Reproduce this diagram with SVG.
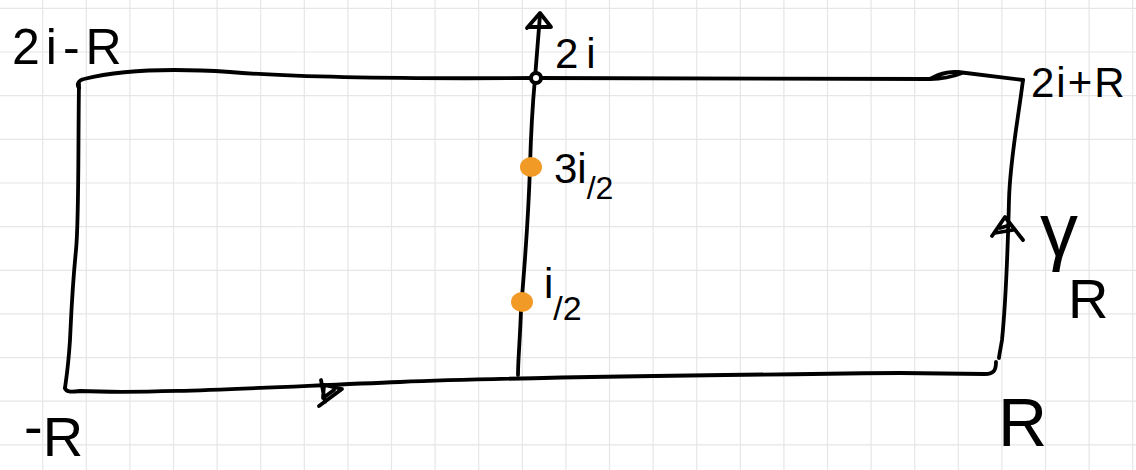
<svg xmlns="http://www.w3.org/2000/svg" width="1136" height="470" viewBox="0 0 1136 470">
<style>
.grid{stroke:#e6e6e6;stroke-width:1.2;fill:none}
.ink{stroke:#000;stroke-width:3.8;fill:none;stroke-linecap:round;stroke-linejoin:round}
.pt{fill:#f29a26}
.lbl{font-family:"Liberation Sans",Arial,sans-serif;fill:#000}
</style>
<rect width="1136" height="470" fill="#fff"/>
<g id="grid">
<path class="grid" d="M42.7,0V470M86.3,0V470M129.9,0V470M173.5,0V470M217.1,0V470M260.7,0V470M304.3,0V470M347.9,0V470M391.5,0V470M435.1,0V470M478.7,0V470M522.3,0V470M565.9,0V470M609.5,0V470M653.1,0V470M696.7,0V470M740.3,0V470M783.9,0V470M827.5,0V470M871.1,0V470M914.7,0V470M958.3,0V470M1001.9,0V470M1045.5,0V470M1089.1,0V470M1132.7,0V470M0,8.4H1136M0,52H1136M0,95.7H1136M0,139.3H1136M0,183H1136M0,226.6H1136M0,270.3H1136M0,313.9H1136M0,357.6H1136M0,401.2H1136M0,444.9H1136"/>
</g>
<g id="connectors">
<path id="top-edge" class="ink" d="M79,88 C76,84 79,80 84,79 C120,70 170,68 230,72 C290,77 400,79 536,78 L930,79 C940,73 955,70 962,73 C952,77 940,79 930,79 M958,72 L1023,80"/>
<path id="right-edge" class="ink" d="M1023,80 C1018,120 1010,160 1009,200 C1008,240 1006,300 1002,340 C1000,352 999,356 999,358"/>
<path id="bottom-edge" class="ink" d="M65,388 C66,392 70,392 80,391 C150,394 250,388 400,382 C520,377 700,375 900,373 L985,374 C994,374 996,370 996,362"/>
<path id="left-edge" class="ink" d="M79,84 C78,150 79,220 76,250 C72,290 71,320 70,340 C68,370 66,380 65,388"/>
<path id="imag-axis" class="ink" d="M518,375 C518,360 520,340 521,310 C524,270 528,230 530,167 C531,130 533,100 535,78 L540,15"/>
<path id="axis-arrow" class="ink" d="M527,28 L540,13 L551,27 L529,27"/>
<path id="bottom-arrow" class="ink" d="M321,380 L325,402 M319,406 L342,389 L324,385 L323,398 L334,390"/>
<path id="right-arrow" class="ink" d="M992,236 L1005,217 L1023,240 M995,233 L1013,230 M1000,228 L1007,226"/>
</g>
<g id="node-2i">
<circle cx="536" cy="78" r="5" fill="#fff" stroke="#000" stroke-width="4"/>
<text class="lbl" x="555" y="68" font-size="42" letter-spacing="8">2i</text>
</g>
<g id="node-3i2">
<ellipse class="pt" cx="531" cy="167" rx="11" ry="10"/>
<text class="lbl" x="554" y="183" font-size="42">3i<tspan font-size="32" dy="16">/2</tspan></text>
</g>
<g id="node-i2">
<ellipse class="pt" cx="522" cy="302" rx="11" ry="10"/>
<text class="lbl" x="544" y="298" font-size="42">i<tspan font-size="34" dy="22">/2</tspan></text>
</g>
<g id="corner-tl">
<text class="lbl" x="12" y="64" font-size="50" letter-spacing="6">2i-R</text>
</g>
<g id="corner-tr">
<text class="lbl" x="1031" y="97" font-size="42" letter-spacing="2">2i+R</text>
</g>
<g id="corner-bl">
<text class="lbl" x="24" y="446" font-size="56">-<tspan dy="10">R</tspan></text>
</g>
<g id="corner-br">
<text class="lbl" x="998" y="446" font-size="68">R</text>
</g>
<g id="gamma-label">
<text class="lbl" x="1040" y="256" font-size="76">γ<tspan font-size="56" dy="62" dx="-10">R</tspan></text>
</g>
</svg>
